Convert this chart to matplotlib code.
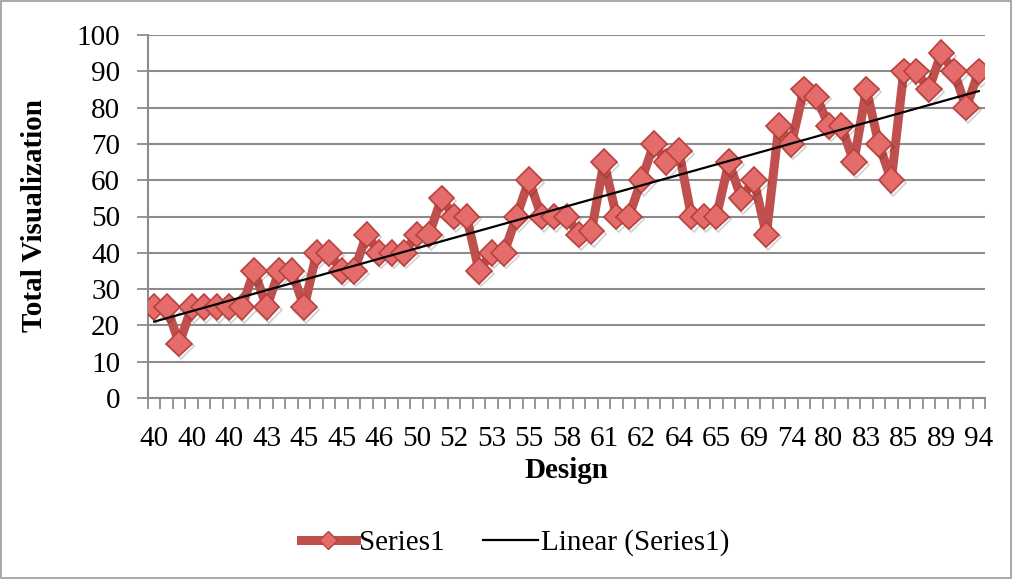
import numpy as np
import matplotlib
matplotlib.use("Agg")
import matplotlib.pyplot as plt
from matplotlib.patches import Rectangle
from matplotlib.lines import Line2D
import matplotlib.patheffects as pe

# values, one per category
visits = [25, 25, 15, 25, 25, 25, 25, 25, 35, 25, 35, 35, 25, 40, 40, 35, 35,
          45, 40, 40, 40, 45, 45, 55, 50, 50, 35, 40, 40, 50, 60, 50, 50, 50,
          45, 46, 65, 50, 50, 60, 70, 65, 68, 50, 50, 50, 65, 55, 60, 45, 75,
          70, 85, 83, 75, 75, 65, 85, 70, 60, 90, 90, 85, 95, 90, 80, 90]

# only every third category label is shown on the axis
shown_labels = ["40", "40", "40", "43", "45", "45", "46", "50", "52", "53", "55",
                "58", "61", "62", "64", "65", "69", "74", "80", "83", "85", "89", "94"]

y_ticks = [0, 10, 20, 30, 40, 50, 60, 70, 80, 90, 100]

plt.rcParams['font.family'] = ['Liberation Serif', 'DejaVu Serif']

fig = plt.figure(figsize=(10.13, 5.79), dpi=100)
ax = fig.add_axes([148/1013, 1 - 398/579, (985-148)/1013, (398-35)/579])

n = len(visits)
idx = np.arange(n)

red = '#C0504D'
ax.plot(idx, visits, color=red, lw=6.5, solid_joinstyle='round', zorder=3)
ax.plot(idx, visits, ls='none', marker='D', markersize=13,
        markerfacecolor='#E46C6A', markeredgecolor='#B8413E', markeredgewidth=1.2,
        zorder=4, path_effects=[pe.SimpleLineShadow(offset=(1.5, -2), alpha=0.18),
                                pe.Normal()])

# linear trendline, fitted like Excel over 1..n
coef = np.polyfit(idx + 1, visits, 1)
trend = np.poly1d(coef)(idx + 1)
ax.plot([idx[0], idx[-1]], [trend[0], trend[-1]], color='black', lw=1.6, zorder=5)

ax.set_xlim(-0.5, n - 0.5)
ax.set_ylim(0, 100)
ax.set_yticks(y_ticks)
ax.set_yticklabels([str(v) for v in y_ticks], fontsize=21)
ax.yaxis.grid(True, color='#8c8c8c', lw=1.5)
ax.set_axisbelow(True)

# tick marks between categories, labels on every third category
ax.set_xticks(np.arange(-0.5, n, 1.0))
ax.set_xticklabels([])
ax.set_xticks(np.arange(0, n, 3), minor=True)
ax.set_xticklabels(shown_labels, minor=True, fontsize=21)
ax.tick_params(axis='x', which='major', length=8, width=1.3, color='#8c8c8c')
ax.tick_params(axis='x', which='minor', length=0, pad=20)
ax.tick_params(axis='y', length=8, width=1.3, color='#8c8c8c', pad=12)

for s in ['top', 'right']:
    ax.spines[s].set_visible(False)
for s in ['left', 'bottom']:
    ax.spines[s].set_color('#8c8c8c')
    ax.spines[s].set_linewidth(1.5)

fig.text(35/1013, 1 - 215/579, 'Total Visualization', rotation=90, fontsize=21,
         fontweight='bold', ha='center', va='center')
fig.text(566/1013, 1 - 470/579, 'Design', fontsize=21, fontweight='bold',
         ha='center', va='center')

h1 = Line2D([], [], color=red, lw=6.5, marker='D', markersize=9,
            markerfacecolor='#E46C6A', markeredgecolor='#B8413E')
h2 = Line2D([], [], color='black', lw=1.6)
fig.legend([h1, h2], ['Series1', 'Linear (Series1)'], loc='center',
           bbox_to_anchor=(515/1013, 1 - 543/579), ncol=2, frameon=False,
           fontsize=21, handlelength=1.9, handletextpad=0.1, columnspacing=1.3)

fig.patches.append(Rectangle((0.001, 0.002), 0.997, 0.996, transform=fig.transFigure,
                             fill=False, edgecolor='#9a9a9a', lw=1.2))

fig.savefig('out.png', dpi=100)
